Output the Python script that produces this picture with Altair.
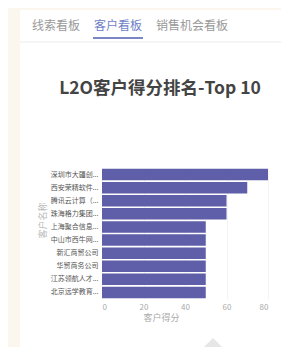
import altair as alt
import pandas as pd

FONT = "Noto Sans CJK SC"

# ---- data ----
names = [
    "深圳市大疆创...",
    "西安荣精软件...",
    "腾讯云计算（...",
    "珠海格力集团...",
    "上海聚合信息...",
    "中山市西牛网...",
    "新汇商贸公司",
    "华贸商务公司",
    "江苏领航人才...",
    "北京远学教育...",
]
scores = [80, 70, 60, 60, 50, 50, 50, 50, 50, 50]
x_ticks = [0, 20, 40, 60, 80]
tabs = ["线索看板", "客户看板", "销售机会看板"]
title_text = "L2O客户得分排名-Top 10"
x_title = "客户得分"
y_title = "客户名称"

df = pd.DataFrame({"name": names, "score": scores})
one = pd.DataFrame({"a": [0]})

W, H = 166, 131

bars = alt.Chart(df).mark_bar(color="#5f5ea8").encode(
    y=alt.Y(
        "name:N",
        sort=None,
        scale=alt.Scale(paddingInner=0.12, paddingOuter=0.06),
        axis=alt.Axis(
            title=y_title, titleFontSize=9, titleColor="#bbbbbb",
            titleFontWeight="normal", titleFont=FONT,
            titleX=-60, titleY=52, titleAlign="center", titleBaseline="middle",
            labelFont=FONT, labelFontSize=7, labelColor="#555555",
            labelPadding=4, ticks=False, domain=False, grid=False,
        ),
    ),
    x=alt.X(
        "score:Q",
        scale=alt.Scale(domain=[0, 80], nice=False),
        axis=alt.Axis(
            values=x_ticks, title=x_title, titleFontSize=9, titleColor="#aaaaaa",
            titleFontWeight="normal", titleFont=FONT,
            titleX=59, titleY=18, titleAlign="center", titleBaseline="middle",
            labelFont=FONT, labelFontSize=8, labelColor="#aaaaaa",
            labelPadding=4, ticks=False, domain=False,
            grid=True, gridColor="#f4f4f4",
        ),
    ),
)

def rect(x, x2, y, y2, color):
    return alt.Chart(one).mark_rect(color=color).encode(
        x=alt.value(x), x2=alt.value(x2), y=alt.value(y), y2=alt.value(y2)
    )

def text(t, x, y, size, color, weight="normal"):
    return alt.Chart(one).mark_text(
        text=t, font=FONT, fontSize=size, color=color, fontWeight=weight,
        align="center", baseline="middle",
    ).encode(x=alt.value(x), y=alt.value(y))

cream = "#fbf7ee"
layers = [
    rect(-94, -82, -160, 179, cream),
    rect(-94, 179, -160, -158, cream),
    rect(-82, 179, -126.5, -125.5, "#ececec"),
    rect(-9, 41, -131, -129, "#7b86c8"),
    text(tabs[0], -46, -142, 12, "#999999"),
    text(tabs[1], 16, -142, 12, "#6f7fc7"),
    text(tabs[2], 90, -142, 12, "#999999"),
    text(title_text, 58, -79, 17.5, "#444444", "bold"),
    bars,
    alt.Chart(one).mark_point(
        shape="M0,-1L2,1L-2,1Z", filled=True, color="#e6e6e6", opacity=1, size=1156
    ).encode(x=alt.value(111), y=alt.value(187)),
]

chart = alt.layer(*layers).properties(
    width=W, height=H,
    autosize=alt.AutoSizeParams(type="none"),
    padding={"left": 94, "top": 160, "right": 13, "bottom": 48},
    background="#ffffff",
).configure_view(stroke=None)

chart.save("out.html", embed_options={"renderer": "svg", "actions": False})
